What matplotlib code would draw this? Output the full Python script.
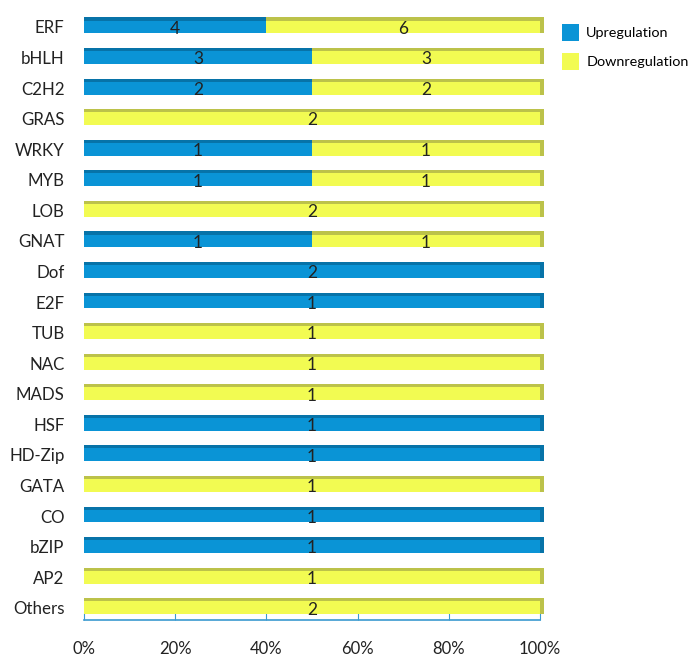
import numpy as np
import matplotlib.pyplot as plt

# transcription factor families and counts of DEGs
families = ["ERF", "bHLH", "C2H2", "GRAS", "WRKY", "MYB", "LOB", "GNAT", "Dof", "E2F",
            "TUB", "NAC", "MADS", "HSF", "HD-Zip", "GATA", "CO", "bZIP", "AP2", "Others"]
up = [4, 3, 2, 0, 1, 1, 0, 1, 2, 1, 0, 0, 0, 1, 1, 0, 1, 1, 0, 0]
down = [6, 3, 2, 2, 1, 1, 2, 1, 0, 0, 1, 1, 1, 0, 0, 1, 0, 0, 1, 2]
xticks = [0, 20, 40, 60, 80, 100]

plt.rcParams['font.family'] = ['Lato', 'DejaVu Sans']

up_c, up_top = "#0A94D6", "#0773A8"
dn_c, dn_top = "#F2FB52", "#BCC24A"

def main():
    up_a = np.array(up, dtype=float)
    dn_a = np.array(down, dtype=float)
    tot = up_a + dn_a
    up_p = up_a / tot * 100
    dn_p = dn_a / tot * 100
    y = np.arange(len(families))

    fig = plt.figure(figsize=(6.98, 6.67), dpi=100)
    ax = fig.add_axes([0.1203, 0.0705, 0.6533, 0.912])

    h = 0.42
    th = 0.1
    # front faces
    ax.barh(y, up_p, height=h, color=up_c, label="Upregulation", zorder=2)
    ax.barh(y, dn_p, left=up_p, height=h, color=dn_c, label="Downregulation", zorder=2)
    # top faces (darker strip)
    ax.barh(y - h / 2 - th / 2, up_p, height=th, color=up_top, zorder=2)
    ax.barh(y - h / 2 - th / 2, dn_p, left=up_p, height=th, color=dn_top, zorder=2)
    # right side face
    last_c = [dn_top if d > 0 else up_top for d in dn_a]
    side = ax.barh(y - th / 2, 0.8, left=100, height=h + th, color=last_c, zorder=2)
    for p in side:
        p.set_clip_on(False)

    for i in range(len(families)):
        if up_a[i] > 0:
            ax.text(up_p[i] / 2, y[i] + 0.06, "%d" % up[i], ha="center", va="center",
                    fontsize=12.5, color="#222222", zorder=3)
        if dn_a[i] > 0:
            ax.text(up_p[i] + dn_p[i] / 2, y[i] + 0.06, "%d" % down[i], ha="center",
                    va="center", fontsize=12.5, color="#222222", zorder=3)

    ax.set_ylim(len(families) - 0.6, -0.5)
    ax.set_xlim(0, 100)
    ax.set_yticks(y)
    ax.set_yticklabels(families, fontsize=12.2, color="#222222")
    ax.tick_params(axis="y", length=0, pad=14)
    ax.set_xticks(xticks)
    ax.set_xticklabels(["%d%%" % t for t in xticks], fontsize=12, color="#222222")
    ax.tick_params(axis="x", direction="in", length=5, color="#3A9AD0", pad=15)
    for s in ["top", "right", "left"]:
        ax.spines[s].set_visible(False)
    ax.spines["bottom"].set_color("#3A9AD0")
    ax.spines["bottom"].set_linewidth(1.2)

    handles, labels = ax.get_legend_handles_labels()
    fig.legend(handles, labels, loc="upper left", bbox_to_anchor=(0.786, 0.983),
               frameon=False, fontsize=10.4, handlelength=1.2, handleheight=1.4,
               labelspacing=0.85, handletextpad=0.5)

    plt.savefig("out.png", dpi=100)

if __name__ == "__main__":
    main()
